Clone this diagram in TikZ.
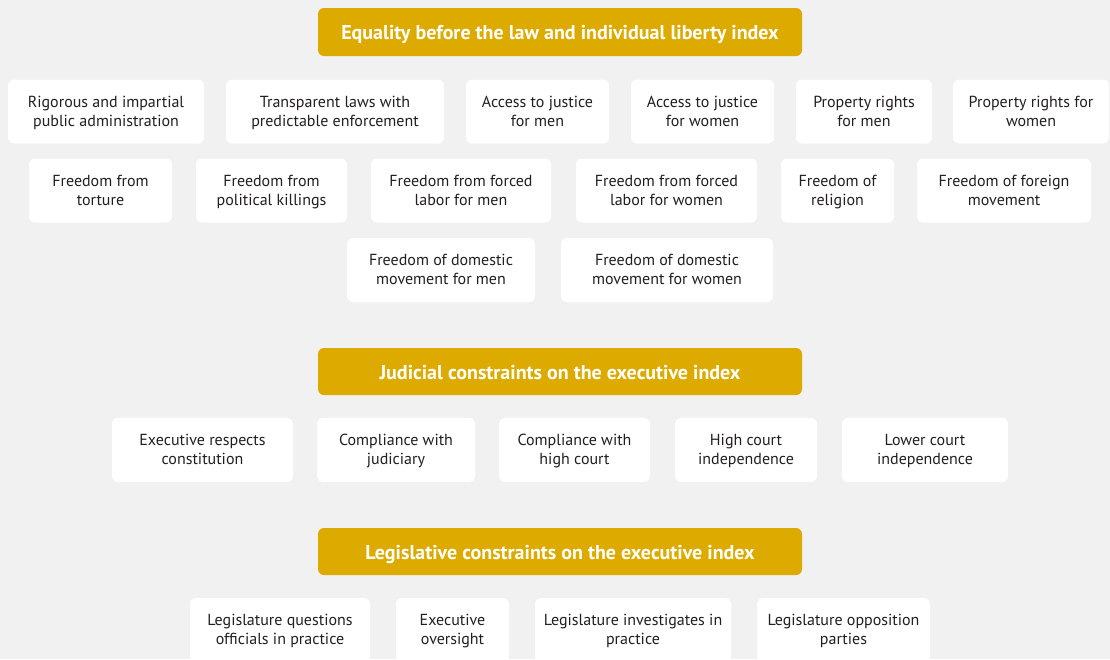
\documentclass[tikz,border=0pt]{standalone}
\usepackage{fontspec}
\setmainfont{PT Sans}
\setsansfont{PT Sans}
\usepackage{xcolor}
\definecolor{pagegray}{HTML}{F1F1F1}
\definecolor{indexgold}{HTML}{DDAA00}
\definecolor{itemtext}{HTML}{231F20}
\usetikzlibrary{positioning}
\tikzset{
  every node/.style={font=\sffamily},
  indexbar/.style={
    rectangle, rounded corners=6pt, fill=indexgold, text=white,
    minimum width=484, minimum height=48, align=center, inner sep=0pt,
    font=\sffamily\bfseries\fontsize{20}{24}\selectfont,
    execute at begin node={\rule{0pt}{23pt}}, execute at end node=\strut
  },
  item/.style={
    rectangle, rounded corners=6pt, fill=white, text=itemtext,
    minimum height=64, align=center, inner sep=0pt,
    font=\sffamily\fontsize{16}{19}\selectfont,
    text height=34pt, text depth=5pt
  }
}

\begin{document}
\begin{tikzpicture}[x=1pt, y=-1pt]

% Page
\useasboundingbox (0,0) rectangle (1110,659);
\fill[pagegray] (0,0) rectangle (1110,659);

% Equality before the law
\node[indexbar] (eqidx) at (560,32) {Equality before the law and individual liberty index};

\node[item, minimum width=196] (rigor)   at (106,111.5)  {Rigorous and impartial\\public administration};
\node[item, minimum width=218] (transp)  at (335,111.5)  {Transparent laws with\\predictable enforcement};
\node[item, minimum width=143] (accmen)  at (537.5,111.5) {Access to justice\\for men};
\node[item, minimum width=143] (accwom)  at (702.5,111.5) {Access to justice\\for women};
\node[item, minimum width=136] (propmen) at (864,111.5)  {Property rights\\for men};
\node[item, minimum width=156] (propwom) at (1031,111.5) {Property rights for\\women};

\node[item, minimum width=143] (torture) at (100.5,190.5) {Freedom from\\torture};
\node[item, minimum width=151] (killing) at (271.5,190.5) {Freedom from\\political killings};
\node[item, minimum width=180] (forcmen) at (461,190.5)   {Freedom from forced\\labor for men};
\node[item, minimum width=181] (forcwom) at (666.5,190.5) {Freedom from forced\\labor for women};
\node[item, minimum width=113] (relig)   at (837.5,190.5) {Freedom of\\religion};
\node[item, minimum width=174] (foreign) at (1004,190.5)  {Freedom of foreign\\movement};

\node[item, minimum width=188] (dommen)  at (441,270) {Freedom of domestic\\movement for men};
\node[item, minimum width=212] (domwom)  at (667,270) {Freedom of domestic\\movement for women};

% Judicial constraints
\node[indexbar, minimum height=47] (judidx) at (560,371.5) {Judicial constraints on the executive index};

\node[item, minimum width=181] (exresp) at (202.5,450) {Executive respects\\constitution};
\node[item, minimum width=158] (compj)  at (396,450)   {Compliance with\\judiciary};
\node[item, minimum width=151] (comph)  at (574.5,450) {Compliance with\\high court};
\node[item, minimum width=142] (highct) at (746,450)   {High court\\independence};
\node[item, minimum width=166] (lowct)  at (925,450)   {Lower court\\independence};

% Legislative constraints
\node[indexbar, minimum height=47] (legidx) at (560,551.5) {Legislative constraints on the executive index};

\node[item, minimum width=180] (legq)  at (280,630)   {Legislature questions\\officials in practice};
\node[item, minimum width=113] (exov)  at (452.5,630) {Executive\\oversight};
\node[item, minimum width=196] (legi)  at (633,630)   {Legislature investigates in\\practice};
\node[item, minimum width=173] (lego)  at (843.5,630) {Legislature opposition\\parties};

\end{tikzpicture}
\end{document}
